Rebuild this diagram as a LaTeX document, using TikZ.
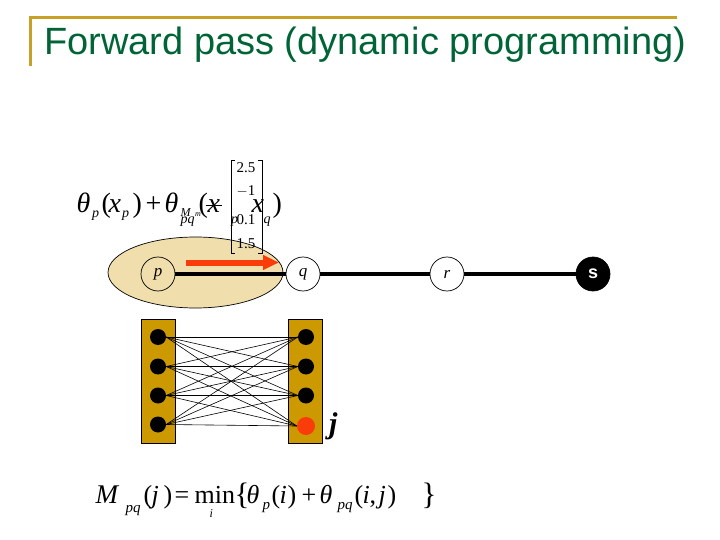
\documentclass[tikz,border=0pt]{standalone}
\usepackage{fontspec}
\usepackage{graphicx}
\setmainfont{Liberation Serif}
\newfontfamily\arial{Liberation Sans}
\usetikzlibrary{arrows.meta,shapes.geometric}
% place #4 at horizontal offset #1 pt, raised #2 pt, in size #3 pt
\newcommand\pc[4]{\rlap{\kern#1pt\raisebox{#2pt}{\fontsize{#3}{#3}\selectfont #4}}}
\definecolor{titlegreen}{RGB}{0,100,55}
\definecolor{goldline}{RGB}{200,160,40}
\definecolor{tanfill}{RGB}{240,222,172}
\definecolor{barfill}{RGB}{204,153,0}
\definecolor{arrowred}{RGB}{250,60,10}
\tikzset{
  varnode/.style={circle,draw=black,line width=0.7pt,minimum size=34pt,inner sep=0pt,font=\fontsize{17}{18}\selectfont\itshape},
  chain/.style={line width=4pt},
  bar/.style={draw=black,line width=0.7pt,fill=barfill},
  dot/.style={circle,fill=black,minimum size=16pt,inner sep=0pt},
  reddot/.style={circle,fill=arrowred,minimum size=18pt,inner sep=0pt},
  link/.style={line width=0.6pt},
  matent/.style={font=\fontsize{15}{16}\selectfont,inner sep=0pt},
  formula/.style={inner sep=0pt,anchor=base west},
}
\begin{document}
\begin{tikzpicture}[x=1pt,y=-1pt]
\useasboundingbox (0,0) rectangle (720,540);
% title frame
\draw[goldline,line width=3pt] (30,66) -- (30,18) -- (677,18);
\node[anchor=base west,inner sep=0pt,text=titlegreen,font=\arial\fontsize{38}{40}\selectfont] (title) at (44,55) {Forward pass (dynamic programming)};
% ellipse
\node[ellipse,draw=black,line width=0.7pt,fill=tanfill,minimum width=175pt,minimum height=71pt,inner sep=0pt] (ell) at (195.5,272.5) {};
% nodes of chain
\node[varnode] (p) at (158,274) {p};
\node[varnode,fill=white] (q) at (303,274) {q};
\node[varnode,fill=white] (r) at (447,274) {r};
\node[varnode,fill=black,text=white,font=\arial\bfseries\fontsize{18}{18}\selectfont] (s) at (593,274) {s};
\draw[chain] (p) -- (q);
\draw[chain] (q) -- (r);
\draw[chain] (r) -- (s);
% red arrow
\coordinate (a1) at (186,262.5);
\coordinate (a2) at (279,262.5);
\draw[arrowred,line width=6pt,-{Triangle[length=16pt,width=14pt]}] (a1) -- (a2);
% upper formula (pieces placed absolutely)
\node[formula] (f1) at (0,212.5) {%
\pc{76}{0}{28}{\itshape θ}%
\pc{91.5}{-5}{14}{\itshape p}%
\pc{101}{0}{28}{(}%
\pc{108}{0}{28}{\itshape x}%
\pc{121.5}{-5}{14}{\itshape p}%
\pc{132}{0}{28}{)}%
\pc{145}{0}{28}{+}%
\pc{164}{0}{28}{\itshape θ}%
\pc{180}{-3.5}{12}{\itshape M}%
\pc{180}{-10.5}{14}{\itshape pq}%
\pc{194.5}{-4}{8}{\itshape m}%
\pc{198}{0}{28}{(}%
\pc{207}{0}{28}{\itshape x}%
\pc{230.5}{-10.5}{14}{\itshape p}%
\pc{251}{0}{28}{\itshape x}%
\pc{263}{-10.5}{14}{\itshape q}%
\pc{272}{0}{28}{)}%
};
\coordinate (s1) at (206,205.5);
\coordinate (s2) at (222,205.5);
\draw[line width=0.8pt] (s1) -- (s2);
% matrix
\draw[line width=0.7pt] (235,160) -- (231,160) -- (231,253) -- (235,253);
\draw[line width=0.7pt] (258,160) -- (262,160) -- (262,253) -- (258,253);
\node[matent] (m1) at (246,168) {2.5};
\node[matent] (m2) at (246,191) {$-$1};
\node[matent] (m3) at (246,220) {0.1};
\node[matent] (m4) at (246,244) {1.5};
% bars
\node[bar,minimum width=34pt,minimum height=124pt,inner sep=0pt] (lb) at (158.5,381) {};
\node[bar,minimum width=34.5pt,minimum height=124pt,inner sep=0pt] (rb) at (305.25,381) {};
\foreach \i/\yy in {1/337,2/366.5,3/395.5,4/424.5}{
  \node[dot] (L\i) at (158,\yy) {};
}
\node[dot] (R1) at (306,337) {};
\node[dot] (R2) at (306,366.5) {};
\node[dot] (R3) at (306,395.5) {};
\node[reddot] (R4) at (306,426) {};
\foreach \i in {1,...,4}{
  \foreach \j in {1,...,4}{
    \draw[link] (L\i.east) -- (R\j.west);
  }
}
\node[inner sep=0pt,anchor=base west,font=\fontsize{30}{30}\selectfont\bfseries\itshape] (jlab) at (329,433) {j};
% bottom formula (pieces placed absolutely)
\node[formula] (f2) at (0,503) {%
\pc{95}{0}{27}{\itshape M}%
\pc{125}{-9}{15}{\itshape pq}%
\pc{143}{0}{26}{(}%
\pc{151}{0}{26}{\itshape j}%
\pc{163}{0}{26}{)}%
\pc{174}{0}{26}{=}%
\pc{194}{0}{26}{min}%
\pc{209}{-14}{12}{\itshape i}%
\pc{234}{-1}{31}{\{}%
\pc{246}{0}{26}{\itshape θ}%
\pc{262}{-6}{15}{\itshape p}%
\pc{271}{0}{26}{(}%
\pc{279}{0}{26}{\itshape i}%
\pc{287}{0}{26}{)}%
\pc{301}{0}{26}{+}%
\pc{319}{0}{26}{\itshape θ}%
\pc{337}{-6}{15}{\itshape pq}%
\pc{354}{0}{26}{(}%
\pc{362}{0}{26}{\itshape i}%
\pc{369}{0}{26}{,}%
\pc{378}{0}{26}{\itshape j}%
\pc{387}{0}{26}{)}%
\pc{421}{-1}{31}{\}}%
};
\end{tikzpicture}
\end{document}
